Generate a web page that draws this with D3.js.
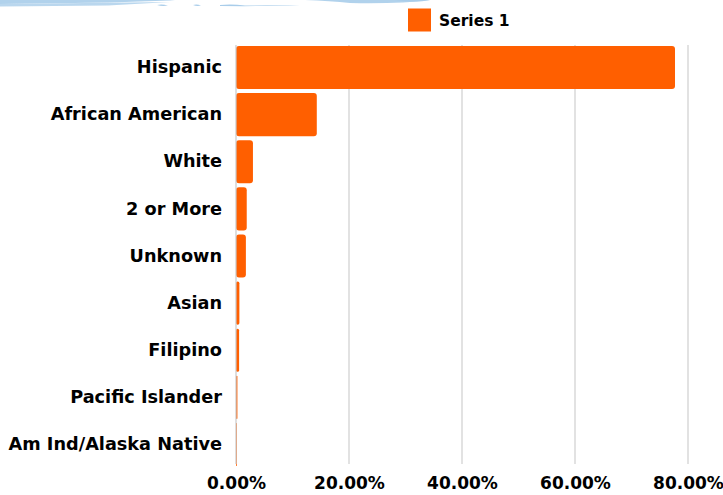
<!DOCTYPE html>
<html>
<head>
<meta charset="utf-8">
<script src="https://cdn.jsdelivr.net/npm/d3@7"></script>
<style>
  html, body { margin: 0; padding: 0; background: #ffffff; }
  svg { display: block; }
  text { font-family: "DejaVu Sans", sans-serif; font-weight: 700; fill: #000; }
</style>
</head>
<body>
<svg id="chart" width="723" height="495"></svg>
<script>
const categories = ["Hispanic", "African American", "White", "2 or More", "Unknown", "Asian", "Filipino", "Pacific Islander", "Am Ind/Alaska Native"];
const series1 = [77.7, 14.3, 3.0, 1.9, 1.75, 0.6, 0.55, 0.25, 0.1];
const xTicks = [0, 20, 40, 60, 80];
const seriesName = "Series 1";

const color = "#FF5F00";
const svg = d3.select("#chart");

// decorative light-blue scribble at the top edge
const scribble = svg.append("g").attr("fill", "#a9cdea");
scribble.append("path").attr("d", "M0,4 L110,2.5 L170,0.5 L175,0 L0,0 Z").attr("opacity", 0.9);
scribble.append("path").attr("d", "M0,4 L170,2 L108,5.5 L0,6.5 Z").attr("opacity", 0.8);
scribble.append("path").attr("d", "M157,5 Q162,4 168,5.5 Q162,6.5 157,5 Z");
scribble.append("path").attr("d", "M193,5 Q197,4 201,5.5 Q197,6.5 193,5 Z");
scribble.append("path").attr("d", "M220,5 Q232,4 245,5.5 L300,5 Q270,6.5 220,6 Z");
scribble.append("path").attr("d", "M305,0 L430,0 Q400,4 350,3 Q330,1 305,0 Z").attr("opacity", 0.9);
scribble.append("path").attr("d", "M395,0 L430,0 Q415,3 395,0 Z");

const x = d3.scaleLinear().domain([0, 80]).range([236, 688]);
const y = d3.scaleBand().domain(categories).range([45, 467]).paddingInner(0.085).paddingOuter(0.02);

// gridlines
svg.append("g")
  .selectAll("line")
  .data(xTicks.slice(1))
  .join("line")
  .attr("x1", d => x(d)).attr("x2", d => x(d))
  .attr("y1", 45).attr("y2", 464)
  .attr("stroke", "#d9d9d9").attr("stroke-width", 1.5);

// bars
svg.append("g")
  .selectAll("rect")
  .data(categories.map((c, i) => ({ c, v: series1[i] })))
  .join("rect")
  .attr("x", x(0))
  .attr("y", d => y(d.c))
  .attr("width", d => Math.max(0.8, x(d.v) - x(0)))
  .attr("height", y.bandwidth())
  .attr("rx", d => Math.min(3, (x(d.v) - x(0)) / 2))
  .attr("fill", color);

// y axis line
svg.append("line")
  .attr("x1", x(0)).attr("x2", x(0))
  .attr("y1", 45).attr("y2", 464)
  .attr("stroke", "#c8c8c8").attr("stroke-width", 1.2);

// y axis labels
const yAxis = d3.axisLeft(y).tickSize(0).tickPadding(14);
const yg = svg.append("g").attr("transform", `translate(${x(0)},0)`).call(yAxis);
yg.select(".domain").remove();
yg.selectAll("text")
  .style("font-family", '"DejaVu Sans", sans-serif')
  .style("font-weight", 700)
  .style("font-size", "17.7px")
  .attr("fill", "#000");

// x axis labels
const xAxis = d3.axisBottom(x).tickValues(xTicks).tickSize(0).tickPadding(12)
  .tickFormat(d => d.toFixed(2) + "%");
const xg = svg.append("g").attr("transform", `translate(0,465)`).call(xAxis);
xg.select(".domain").remove();
xg.selectAll("text")
  .style("font-family", '"DejaVu Sans", sans-serif')
  .style("font-weight", 700)
  .style("font-size", "17px")
  .attr("fill", "#000");

// legend
const lg = svg.append("g");
lg.append("rect").attr("x", 408).attr("y", 8.5).attr("width", 23).attr("height", 23).attr("fill", color);
lg.append("text").attr("x", 439).attr("y", 20.5).attr("dy", "0.35em")
  .style("font-size", "15.5px").text(seriesName);
</script>
</body>
</html>
